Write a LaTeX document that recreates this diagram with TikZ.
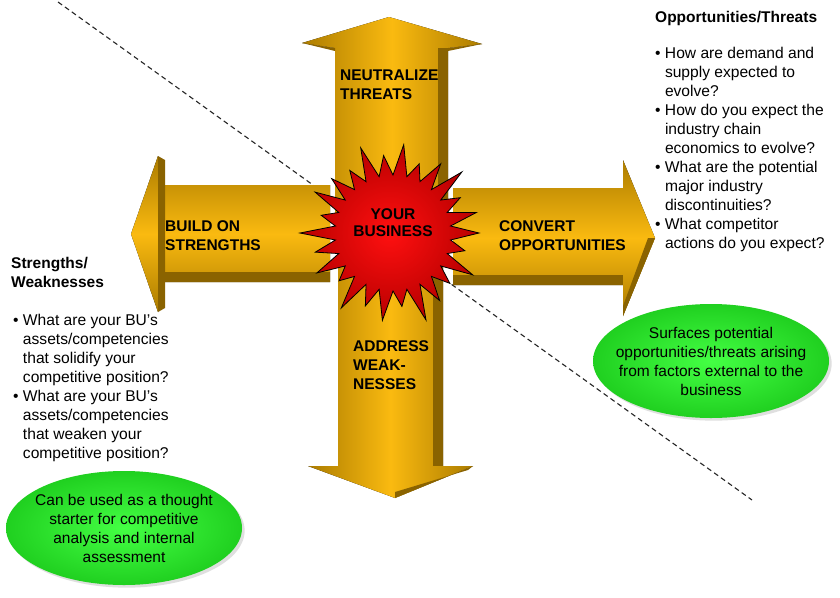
\documentclass[tikz,border=0pt]{standalone}
\usepackage{fontspec}
\setmainfont{Liberation Sans}
\usetikzlibrary{shapes.geometric,shadows}
\definecolor{goldlight}{HTML}{FABA10}
\definecolor{golddark}{HTML}{AC7C00}
\definecolor{burstred}{HTML}{FF1010}
\definecolor{burstdark}{HTML}{B80000}
\definecolor{ovalgreen}{HTML}{44FF44}
\definecolor{ovaldark}{HTML}{20D020}

\begin{document}
\begin{tikzpicture}[x=1pt, y=-1pt,
  vbar/.style={left color=golddark, right color=golddark, middle color=goldlight},
  hbar/.style={top color=golddark, bottom color=golddark, middle color=goldlight},
  bevel/.style={fill=golddark!80!black},
  armtext/.style={font=\fontsize{15.5}{19}\selectfont\bfseries, align=left, inner sep=0pt, anchor=north west},
  qtext/.style={font=\fontsize{15.6}{19}\selectfont, align=left, inner sep=0pt, anchor=north west},
  oval/.style={ellipse, inner color=ovalgreen, outer color=ovaldark, minimum width=236, minimum height=114,
    inner xsep=-14pt, inner ysep=0pt, align=center, font=\fontsize{15.5}{19}\selectfont, drop shadow={opacity=0.25}},
  diag/.style={dash pattern=on 5pt off 3.5pt, line width=1.1pt, black!85}]

\useasboundingbox[fill=white] (0,0) rectangle (840,597);

% Dividing line
\coordinate (dl) at (58,2);
\coordinate (dr) at (752,500);
\draw[diag] (dl) -- (dr);

% Up arrow
\fill[vbar] (335,240) -- (335,48) -- (302,43) -- (389,17) -- (482,44) -- (448,48) -- (448,240) -- cycle;
\fill[bevel] (438,48) -- (448,48) -- (448,240) -- (438,240) -- cycle;
\fill[bevel] (302,43) -- (335,48) -- (335,51) -- cycle;
\fill[bevel] (482,44) -- (448,48) -- (448,51) -- cycle;

% Down arrow
\fill[vbar] (338,230) -- (338,466) -- (308,466) -- (395,498) -- (473,466) -- (443,466) -- (443,230) -- cycle;
\fill[bevel] (433,230) -- (443,230) -- (443,466) -- (433,466) -- cycle;
\fill[bevel] (395,498) -- (473,466) -- (468,470) -- (395,492) -- cycle;

% Left arrow
\fill[hbar] (330,185) -- (158,185) -- (158,156) -- (131,234) -- (158,312) -- (158,282) -- (330,282) -- cycle;
\fill[bevel] (165,272) -- (330,272) -- (330,282) -- (165,282) -- cycle;
\fill[bevel] (158,156) -- (165,160) -- (165,308) -- (158,312) -- cycle;

% Right arrow
\fill[hbar] (453,188) -- (623,188) -- (623,160) -- (655,238) -- (623,316) -- (623,285) -- (453,285) -- cycle;
\fill[bevel] (453,275) -- (623,275) -- (623,285) -- (453,285) -- cycle;
\fill[bevel] (655,238) -- (623,316) -- (623,306) -- (648,238) -- cycle;

% Starburst
\begin{scope}[shift={(393,233)}]
  \shade[inner color=burstred, outer color=burstdark, draw=black, line width=0.8pt]
    (0:86) \foreach \r [count=\i from 0] in {86,74,90,76,82,93,74,88,78,91,72,86,80,93,74,88,82,76,91,78,89,74,84,92,76,86}
      { -- (\i*13.846:\r) -- (\i*13.846+6.92:58) } -- cycle;
\end{scope}

% Arm labels
\node[armtext] (threats) at (340,70) {NEUTRALIZE\\THREATS};
\node[armtext] (strengths) at (165,220) {BUILD ON\\STRENGTHS};
\node[armtext] (opport) at (499,220) {CONVERT\\OPPORTUNITIES};
\node[armtext] (weak) at (353,340) {ADDRESS\\WEAK-\\NESSES};
\node[armtext, align=center, anchor=north, font=\fontsize{15.5}{17.5}\selectfont\bfseries] (biz) at (393,208) {YOUR\\BUSINESS};

% Question lists
\node[armtext] (othead) at (655,11) {Opportunities/Threats};
\node[qtext] (otlist) at (655,47) {\textbullet\ How are demand and\\
  \phantom{\textbullet\ }supply expected to\\
  \phantom{\textbullet\ }evolve?\\
  \textbullet\ How do you expect the\\
  \phantom{\textbullet\ }industry chain\\
  \phantom{\textbullet\ }economics to evolve?\\
  \textbullet\ What are the potential\\
  \phantom{\textbullet\ }major industry\\
  \phantom{\textbullet\ }discontinuities?\\
  \textbullet\ What competitor\\
  \phantom{\textbullet\ }actions do you expect?};

\node[armtext] (swhead) at (11,257) {Strengths/\\Weaknesses};
\node[qtext] (swlist) at (13,314) {\textbullet\ What are your BU’s\\
  \phantom{\textbullet\ }assets/competencies\\
  \phantom{\textbullet\ }that solidify your\\
  \phantom{\textbullet\ }competitive position?\\
  \textbullet\ What are your BU’s\\
  \phantom{\textbullet\ }assets/competencies\\
  \phantom{\textbullet\ }that weaken your\\
  \phantom{\textbullet\ }competitive position?};

% Notes
\node[oval] (external) at (711,361) {Surfaces potential\\opportunities/threats arising\\from factors external to the\\business};
\node[oval] (internal) at (124,528) {Can be used as a thought\\starter for competitive\\analysis and internal\\assessment};

\end{tikzpicture}
\end{document}
